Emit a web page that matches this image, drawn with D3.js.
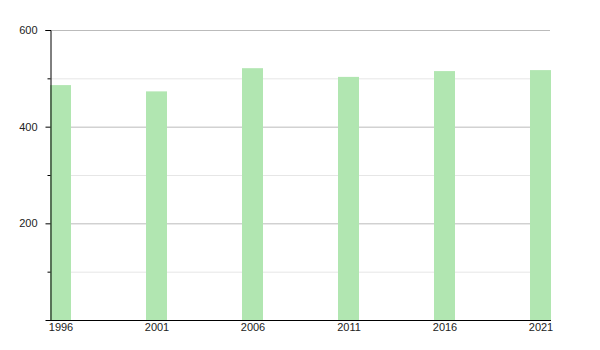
<!DOCTYPE html>
<html lang="en">
<head>
<meta charset="UTF-8">
<script src="https://d3js.org/d3.v7.min.js"></script>
<style>
body { margin: 0; background: #fff; }
svg { font-family: "Liberation Sans", Arial, sans-serif; }
</style>
</head>
<body>
<svg id="chart" width="600" height="350"></svg>
<script>
    // data
    let years = [1996, 2001, 2006, 2011, 2016, 2021];
    let population = [486, 473, 521, 503, 515, 517];
    let majorTicks = [200, 400, 600];
    let minorTicks = [100, 300, 500];

    let svg = d3.select('#chart');
    let plotLeft = 50, plotRight = 551, plotTop = 30, plotBottom = 320;
    let barWidth = 21;

    let x = d3.scaleLinear().domain([1996, 2021]).range([plotLeft + barWidth / 2, plotRight - barWidth / 2]);
    let y = d3.scaleLinear().domain([0, 600]).range([plotBottom, plotTop]);

    // grid lines
    svg.selectAll('.minor-grid')
        .data(minorTicks)
        .enter()
        .append('line')
        .attr('x1', plotLeft).attr('x2', plotRight - 1)
        .attr('y1', (d) => y(d) + 0.5).attr('y2', (d) => y(d) + 0.5)
        .attr('stroke', '#e6e6e6');

    svg.selectAll('.major-grid')
        .data(majorTicks)
        .enter()
        .append('line')
        .attr('x1', plotLeft).attr('x2', plotRight - 1)
        .attr('y1', (d) => y(d) + 0.5).attr('y2', (d) => y(d) + 0.5)
        .attr('stroke', '#bbbbbb');

    // bars
    svg.selectAll('.bar')
        .data(years)
        .enter()
        .append('rect')
        .attr('x', (d) => x(d) - barWidth / 2)
        .attr('y', (d, i) => y(population[i]))
        .attr('width', barWidth)
        .attr('height', (d, i) => plotBottom - y(population[i]))
        .attr('fill', '#b1e6b1');

    // y axis
    let yAxis = svg.append('g')
        .attr('transform', 'translate(' + (plotLeft + 0.5) + ',0)')
        .call(d3.axisLeft(y).tickValues(majorTicks).tickSize(5).tickPadding(8));
    yAxis.append('g')
        .selectAll('line')
        .data(minorTicks)
        .enter()
        .append('line')
        .attr('x1', -3).attr('x2', 0)
        .attr('y1', (d) => y(d) + 0.5).attr('y2', (d) => y(d) + 0.5)
        .attr('stroke', '#000');
    yAxis.select('.domain').attr('stroke', '#000');

    // x axis
    let xAxis = svg.append('g')
        .attr('transform', 'translate(0,' + (plotBottom + 0.5) + ')')
        .call(d3.axisBottom(x).tickValues(years).tickFormat(d3.format('d')).tickSize(0).tickPadding(3));
    xAxis.select('.domain').attr('d', 'M' + plotLeft + ',0H' + plotRight);

    svg.selectAll('.tick text')
        .attr('font-size', 11)
        .attr('fill', '#222')
        .style('font-family', '"Liberation Sans", Arial, sans-serif');
</script>
</body>
</html>
